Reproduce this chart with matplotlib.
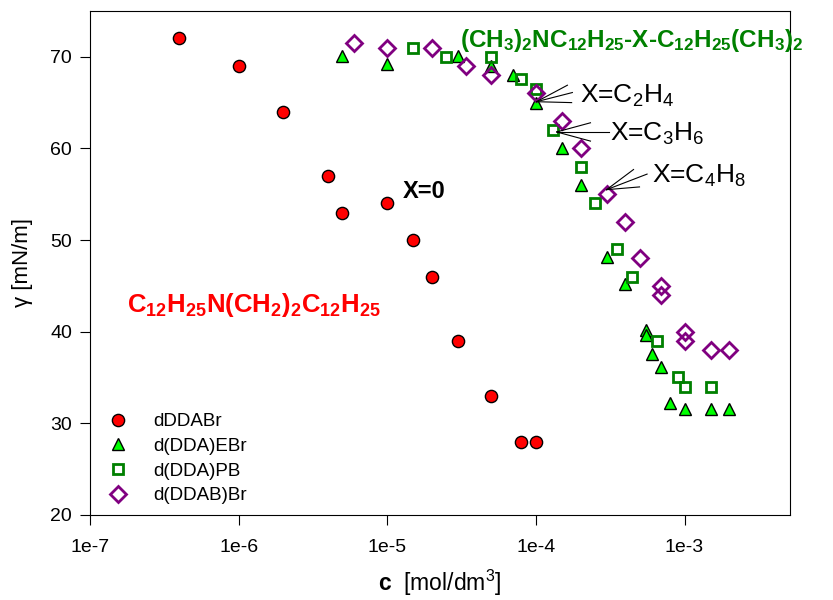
import matplotlib
matplotlib.use("Agg")
import matplotlib.pyplot as plt
from matplotlib.ticker import FixedLocator, NullLocator

plt.rcParams['font.family'] = ['Liberation Sans', 'DejaVu Sans']
plt.rcParams['mathtext.fontset'] = 'custom'
plt.rcParams['mathtext.rm'] = 'Liberation Sans'
plt.rcParams['mathtext.it'] = 'Liberation Sans:italic'
plt.rcParams['mathtext.bf'] = 'Liberation Sans:bold'

# surface tension data
c_dda = [4e-7, 1e-6, 2e-6, 4e-6, 5e-6, 1e-5, 1.5e-5, 2e-5, 3e-5, 5e-5, 8e-5, 1e-4]
g_dda = [72, 69, 64, 57, 53, 54, 50, 46, 39, 33, 28, 28]

c_ebr = [5e-6, 1e-5, 3e-5, 5e-5, 7e-5, 1e-4, 1.5e-4, 2e-4, 3e-4, 4e-4, 5.5e-4, 5.5e-4,
         6e-4, 7e-4, 8e-4, 1e-3, 1.5e-3, 2e-3]
g_ebr = [70.1, 69.2, 70.1, 69, 68, 65, 60, 56, 48.2, 45.2, 40.2, 39.6,
         37.6, 36.2, 32.2, 31.6, 31.6, 31.6]

c_pb = [1.5e-5, 2.5e-5, 5e-5, 8e-5, 1e-4, 1.3e-4, 2e-4, 2.5e-4, 3.5e-4, 4.4e-4,
        6.5e-4, 9e-4, 1e-3, 1.5e-3]
g_pb = [71, 70, 70, 67.6, 66.5, 62, 58, 54, 49, 46, 39, 35.1, 34, 34]

c_br = [6e-6, 1e-5, 2e-5, 3.4e-5, 5e-5, 1e-4, 1.5e-4, 2e-4, 3e-4, 4e-4, 5e-4,
        7e-4, 7e-4, 1e-3, 1e-3, 1.5e-3, 2e-3]
g_br = [71.5, 71, 71, 69, 68, 66, 63, 60, 55, 52, 48, 45, 44, 40, 39, 38, 38]

xticks = [1e-7, 1e-6, 1e-5, 1e-4, 1e-3]
xlabels = ['1e-7', '1e-6', '1e-5', '1e-4', '1e-3']
yticks = [20, 30, 40, 50, 60, 70]

# spacer labels and where their leader lines start / end
spacer_text = [r'X=C$_2$H$_4$', r'X=C$_3$H$_6$', r'X=C$_4$H$_8$']
spacer_pos = [(1.97e-4, 65.0), (3.13e-4, 60.8), (6.0e-4, 56.2)]
leader_from = [[(1.63e-4, 66.9), (1.76e-4, 66.1), (1.74e-4, 65.0)],
               [(2.33e-4, 62.8), (3.1e-4, 61.8), (2.33e-4, 60.8)],
               [(4.54e-4, 57.7), (5.6e-4, 57.2), (4.98e-4, 55.8)]]
leader_to = [(1.01e-4, 65.1), (1.38e-4, 61.8), (2.99e-4, 55.5)]

fig = plt.figure(figsize=(8.33, 6.0), dpi=100)
ax = fig.add_axes([0.108, 0.1417, 0.840, 0.840])

ax.plot(c_dda, g_dda, 'o', ms=8.8, mfc='#ff0000', mec='black', mew=1.0,
        label='dDDABr', zorder=3)
ax.plot(c_ebr, g_ebr, '^', ms=9, mfc='#00ff00', mec='black', mew=1.0,
        label='d(DDA)EBr', zorder=3)
ax.plot(c_pb, g_pb, 's', ms=7.5, mfc='none', mec='#008000', mew=2.0,
        label='d(DDA)PB', zorder=3)
ax.plot(c_br, g_br, 'D', ms=8, mfc='none', mec='#800080', mew=2.0,
        label='d(DDAB)Br', zorder=3)

ax.set_xscale('log')
ax.set_xlim(1e-7, 5.1e-3)
ax.set_ylim(20, 75)
ax.xaxis.set_major_locator(FixedLocator(xticks))
ax.xaxis.set_minor_locator(NullLocator())
ax.set_xticklabels(xlabels)
ax.set_yticks(yticks)
ax.tick_params(direction='out', length=7, labelsize=14)
ax.tick_params(axis='x', pad=10)
ax.tick_params(axis='y', pad=6)

ax.set_xlabel(r'$\mathbf{c}$  [mol/dm$^3$]', fontsize=16.5, labelpad=9)
ax.set_ylabel('γ [mN/m]', fontsize=16)
ax.yaxis.set_label_coords(-0.082, 0.5)

ax.legend(loc='upper left', bbox_to_anchor=(0.0266, 0.202), frameon=False,
          fontsize=13.5, handlelength=1.0, handletextpad=1.37,
          labelspacing=0.4, borderpad=0, borderaxespad=0)

ax.text(1.27e-5, 54.6, 'X=0', fontsize=17, fontweight='bold', va='baseline')
ax.text(1.77e-7, 42.2,
        r'$\mathbf{C_{12}H_{25}N(CH_2)_2C_{12}H_{25}}$',
        fontsize=18.5, color='#ff0000', va='baseline')
ax.text(3.07e-5, 71.1,
        r'$\mathbf{(CH_3)_2NC_{12}H_{25}}$' + '-X-' + r'$\mathbf{C_{12}H_{25}(CH_3)_2}$',
        fontsize=17.5, color='#008000', fontweight='bold', va='baseline', clip_on=False)

for txt, pos, starts, end in zip(spacer_text, spacer_pos, leader_from, leader_to):
    ax.text(pos[0], pos[1], txt, fontsize=19, va='baseline')
    for st in starts:
        ax.plot([st[0], end[0]], [st[1], end[1]], color='black', lw=0.8, zorder=4)

fig.savefig('out.png', dpi=100)
